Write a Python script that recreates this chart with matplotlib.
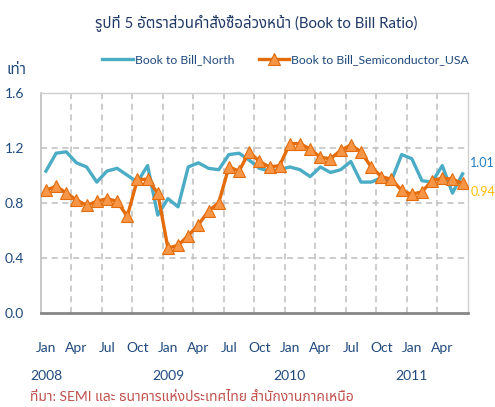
import matplotlib
matplotlib.use("Agg")
import matplotlib.pyplot as plt
import matplotlib.transforms as mtransforms

plt.rcParams["font.family"] = ["Lato", "Noto Sans Thai", "DejaVu Sans"]

# Monthly values Jan 2008 - Jun 2011
months = ["Jan", "Feb", "Mar", "Apr", "May", "Jun",
          "Jul", "Aug", "Sep", "Oct", "Nov", "Dec"]
years = ["2008", "2009", "2010", "2011"]

north = [1.03, 1.16, 1.17, 1.09, 1.06, 0.95, 1.03, 1.05, 1.00, 0.95, 1.07, 0.71,
         0.83, 0.77, 1.06, 1.09, 1.05, 1.04, 1.15, 1.16, 1.11, 1.05, 1.03, 1.04,
         1.06, 1.04, 0.99, 1.06, 1.02, 1.04, 1.10, 0.95, 0.95, 0.98, 0.96, 1.15,
         1.12, 0.96, 0.95, 1.07, 0.87, 1.01]
semi = [0.89, 0.92, 0.87, 0.82, 0.78, 0.81, 0.83, 0.81, 0.70, 0.97, 0.97, 0.87,
        0.47, 0.49, 0.56, 0.64, 0.74, 0.80, 1.06, 1.03, 1.17, 1.10, 1.06, 1.07,
        1.23, 1.23, 1.19, 1.13, 1.12, 1.18, 1.22, 1.17, 1.06, 0.99, 0.97, 0.89,
        0.86, 0.88, 0.96, 0.98, 0.97, 0.94]

x = list(range(len(north)))

navy = "#1F497D"
blue = "#4BACC6"
orange = "#E46C0A"
grid_c = "#BFBFBF"

fig = plt.figure(figsize=(4.95, 4.07), dpi=100)
ax = fig.add_axes([0.0826, 0.2317, 0.8622, 0.5405])

ax.plot(x, north, color=blue, lw=2.4, label="Book to Bill_North",
        solid_joinstyle="round", zorder=3)
ax.plot(x, semi, color=orange, lw=2.4, marker="^", ms=8,
        mfc="#F79646", mec=orange, mew=0.8,
        label="Book to Bill_Semiconductor_USA", zorder=4)

ax.set_xlim(-0.5, len(x) - 0.5)
ax.set_ylim(0, 1.6)
ax.set_yticks([0, 0.4, 0.8, 1.2, 1.6])
ax.set_yticklabels(["0.0", "0.4", "0.8", "1.2", "1.6"])

# gridlines
for g in [0.4, 0.8, 1.2]:
    ax.axhline(g, color=grid_c, lw=1.1, ls=(0, (4, 3)), zorder=1)
for b in range(2, len(x) - 1, 3):
    ax.axvline(b + 0.5, color=grid_c, lw=1.1, ls=(0, (4, 3)), zorder=1)

xt = list(range(0, len(x), 3))
ax.set_xticks(xt)
ax.set_xticklabels([months[i % 12] for i in xt])
ax.tick_params(axis="x", length=0, pad=21, labelsize=10, labelcolor=navy)
ax.tick_params(axis="y", length=0, pad=12, labelsize=10, labelcolor=navy)

for s in ["top", "right"]:
    ax.spines[s].set_color("#D0D0D0")
    ax.spines[s].set_linewidth(1.0)
ax.spines["left"].set_color("#BFBFBF")
ax.spines["left"].set_linewidth(1.2)
ax.spines["bottom"].set_color("#868686")
ax.spines["bottom"].set_linewidth(2.0)

trans = mtransforms.blended_transform_factory(ax.transData, ax.transAxes)
for k, yr in enumerate(years):
    ax.text(k * 12, -0.29, yr, transform=trans, ha="center", va="center",
            fontsize=10, color=navy)

# end labels
ax.text(len(x) - 0.25, 1.09, "1.01", ha="left", va="center",
        fontsize=9, color="#1F7BC4", clip_on=False)
ax.text(len(x) - 0.25, 0.88, "0.94", ha="left", va="center",
        fontsize=9, color="#FFC000", clip_on=False)

fig.text(0.518, 0.945, "รูปที่ 5 อัตราส่วนคำสั่งซื้อล่วงหน้า (Book to Bill Ratio)",
         ha="center", va="center", fontsize=10.8, color="#1F3864")
fig.text(0.014, 0.828, "เท่า", ha="left", va="center", fontsize=11, color=navy)
fig.text(0.06, 0.025, "ที่มา: SEMI และ ธนาคารแห่งประเทศไทย สำนักงานภาคเหนือ",
         ha="left", va="center", fontsize=10, color="#C0504D")

fig.legend(loc="center", bbox_to_anchor=(0.577, 0.853), ncol=2, frameon=False,
           fontsize=8.8, handlelength=2.5, handletextpad=0.15, columnspacing=2.0,
           labelcolor=navy)

fig.savefig("out.png")
